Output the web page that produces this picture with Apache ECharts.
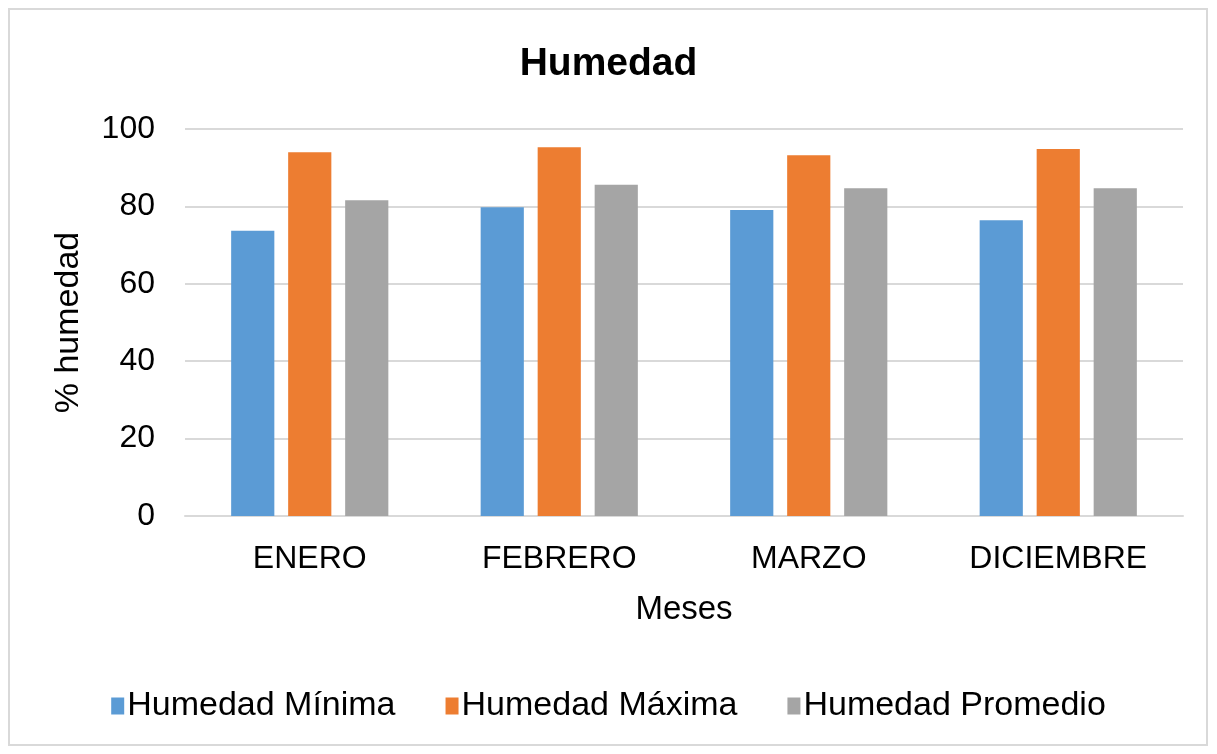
<!DOCTYPE html>
<html>
<head>
<meta charset="utf-8">
<script src="https://cdn.jsdelivr.net/npm/echarts@6/dist/echarts.min.js"></script>
<style>
  html, body { margin: 0; padding: 0; background: #fff; }
  .frame {
    position: absolute; left: 8px; top: 8px; width: 1200px; height: 738px;
    border: 2px solid #d9d9d9; box-sizing: border-box;
  }
  #chart { position: absolute; left: 0; top: 0; width: 1217px; height: 754px; }
</style>
</head>
<body>
<div class="frame"></div>
<div id="chart"></div>
<script>
  // datos
  const meses = ['ENERO', 'FEBRERO', 'MARZO', 'DICIEMBRE']
  const humedadMinima = [73.7, 79.8, 79.1, 76.4]
  const humedadMaxima = [94.0, 95.3, 93.2, 94.8]
  const humedadPromedio = [81.6, 85.6, 84.7, 84.7]
  const yTicks = [0, 20, 40, 60, 80, 100]

  const fuente = '"Liberation Sans", Arial, sans-serif'
  const chart = echarts.init(document.getElementById('chart'))

  const serie = (name, data, color) => ({
    name,
    type: 'bar',
    data,
    itemStyle: { color },
    barGap: '32%',
    barCategoryGap: '37%'
  })

  chart.setOption({
    animation: false,
    textStyle: { fontFamily: fuente },
    title: {
      text: 'Humedad',
      left: 'center',
      top: 40,
      textStyle: { fontSize: 39, fontWeight: 'bold', color: '#000', fontFamily: fuente }
    },
    legend: {
      top: 684,
      left: 'center',
      itemWidth: 13,
      itemHeight: 17,
      itemGap: 50,
      icon: 'rect',
      textStyle: { fontSize: 34, color: '#000', fontFamily: fuente, padding: [0, 0, 0, -2] },
      data: ['Humedad Mínima', 'Humedad Máxima', 'Humedad Promedio']
    },
    grid: { left: 185, right: 34, top: 129, bottom: 238 },
    xAxis: {
      type: 'category',
      data: meses,
      name: 'Meses',
      nameLocation: 'middle',
      nameGap: 77,
      nameTextStyle: { fontSize: 33, color: '#000', fontFamily: fuente },
      axisLine: { lineStyle: { color: '#d9d9d9', width: 2 } },
      axisTick: { show: false },
      axisLabel: { fontSize: 32, color: '#000', margin: 27, fontFamily: fuente }
    },
    yAxis: {
      type: 'value',
      min: yTicks[0],
      max: yTicks[yTicks.length - 1],
      interval: 20,
      name: '% humedad',
      nameLocation: 'middle',
      nameGap: 99,
      nameRotate: 90,
      nameTextStyle: { fontSize: 34, color: '#000', fontFamily: fuente },
      axisLine: { show: false },
      axisTick: { show: false },
      axisLabel: { fontSize: 32, color: '#000', margin: 30, fontFamily: fuente },
      splitLine: { lineStyle: { color: '#d9d9d9', width: 2 } }
    },
    series: [
      serie('Humedad Mínima', humedadMinima, '#5b9bd5'),
      serie('Humedad Máxima', humedadMaxima, '#ed7d31'),
      serie('Humedad Promedio', humedadPromedio, '#a5a5a5')
    ]
  })
</script>
</body>
</html>
